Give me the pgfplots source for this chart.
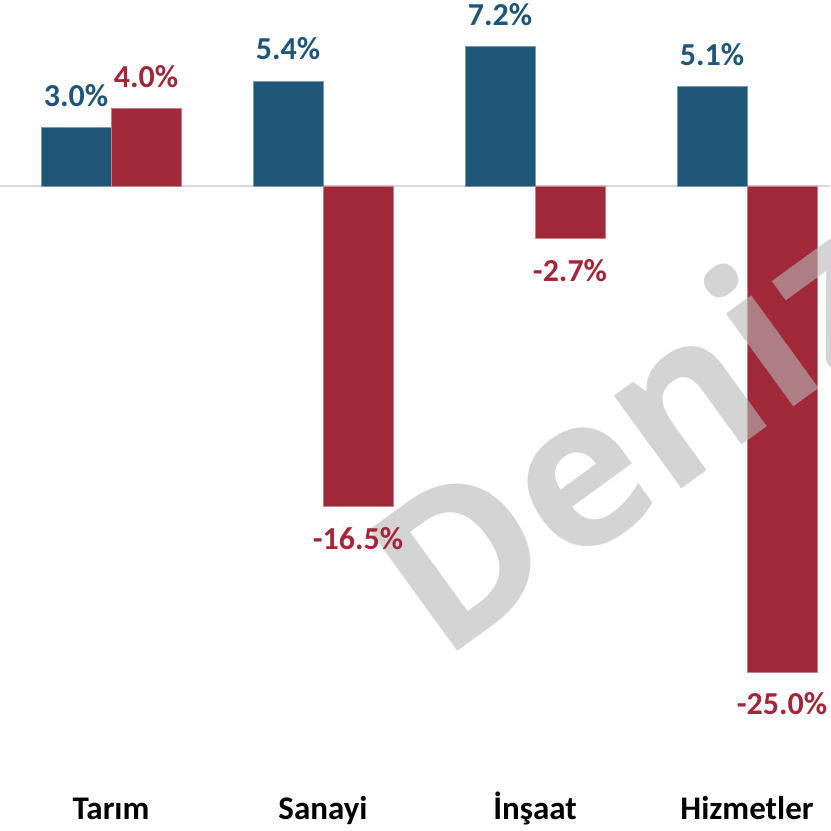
\documentclass[border=0pt]{standalone}
\usepackage{fontspec}
\setmainfont{Carlito}
\newfontfamily\wmfont{Open Sans}
\usepackage{pgfplots}
\pgfplotsset{compat=1.18}
\definecolor{cblue}{HTML}{1F5678}
\definecolor{cred}{HTML}{A02838}
\definecolor{zline}{HTML}{D9D9D9}
\begin{document}
\begin{tikzpicture}
\begin{axis}[
  set layers,
  scale only axis, width=415pt, height=380pt,
  xmin=-0.5236, xmax=3.3915, ymin=-29.53, ymax=9.568,
  ybar=0pt, bar width=35pt,
  axis line style={draw=none}, major tick length=0pt,
  ytick=\empty, xtick={0,1,2,3},
  xticklabels={Tarım,Sanayi,İnşaat,Hizmetler},
  xticklabel style={font=\fontsize{16.5}{18}\selectfont\bfseries, anchor=base, yshift=-30pt, inner sep=0pt},
  clip=false,
  point meta=explicit symbolic,
  nodes near coords,
  visualization depends on={y \as \rawy},
  every node near coord/.append style={font=\fontsize{16}{18}\selectfont\bfseries, anchor=base, inner sep=0pt, yshift={(\rawy>0)*32pt-21.5pt}},
]
\begin{pgfonlayer}{axis background}
\draw[zline, line width=1pt] (axis cs:-0.5236,0) -- (axis cs:3.3915,0);
\end{pgfonlayer}
\addplot[fill=cblue, draw=cblue!60!white, line width=0.4pt, text=cblue] coordinates {
  (0,3.0) [3.0\%]
  (1,5.4) [5.4\%]
  (2,7.2) [7.2\%]
  (3,5.1) [5.1\%]
};
\addplot[fill=cred, draw=cred!60!white, line width=0.4pt, text=cred] coordinates {
  (0,4.0) [4.0\%]
  (1,-16.5) [-16.5\%]
  (2,-2.7) [-2.7\%]
  (3,-25.0) [-25.0\%]
};
\node[rotate=36, font=\wmfont\bfseries\fontsize{105}{105}\selectfont, text=black!28, text opacity=0.6, inner sep=0pt] at (axis cs:2.46,-12.4) {Deniz};
\end{axis}
\pgfresetboundingbox
\path (current axis.south west) ++(0,-35.5pt) rectangle (current axis.north east);
\end{tikzpicture}
\end{document}
